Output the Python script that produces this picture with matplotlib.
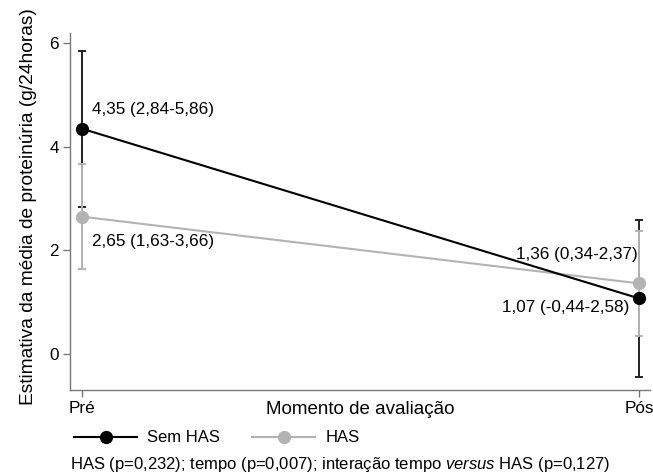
import matplotlib
matplotlib.use("Agg")
import matplotlib.pyplot as plt
from matplotlib.lines import Line2D

plt.rcParams['font.family'] = ['Liberation Sans', 'DejaVu Sans']
plt.rcParams['mathtext.fontset'] = 'custom'
plt.rcParams['mathtext.rm'] = 'Liberation Sans'
plt.rcParams['mathtext.it'] = 'Liberation Sans:italic'

categories = ["Pré", "Pós"]
sem_has = [4.35, 1.07]
sem_has_lo = [2.84, -0.44]
sem_has_hi = [5.86, 2.58]
has = [2.65, 1.36]
has_lo = [1.63, 0.34]
has_hi = [3.66, 2.37]
yticks = [0, 2, 4, 6]

black = "#000000"
gray = "#b3b3b3"

fig = plt.figure(figsize=(6.53, 4.76), dpi=100)
ax = fig.add_axes([70/653, 1-390/476, 580/653, 357/476])
x = [0, 1]

def err(v, lo, hi):
    return [[a - b for a, b in zip(v, lo)], [b - a for a, b in zip(v, hi)]]

ax.errorbar(x, sem_has, yerr=err(sem_has, sem_has_lo, sem_has_hi), fmt='none',
            ecolor="#222222", elinewidth=1.4, capsize=3, capthick=1.4, zorder=2)
ax.errorbar(x, has, yerr=err(has, has_lo, has_hi), fmt='none',
            ecolor=gray, elinewidth=1.4, capsize=3, capthick=1.4, zorder=3)
ax.plot(x, has, color=gray, lw=1.5, marker='o', ms=8.5, zorder=4)
ax.plot(x, sem_has, color=black, lw=1.5, marker='o', ms=8.5, zorder=5)

fs = 12.3
ax.text(0.018, sem_has[0] + 0.38, "4,35 (2,84-5,86)", fontsize=fs, va='center', ha='left')
ax.text(0.018, has[0] - 0.48, "2,65 (1,63-3,66)", fontsize=fs, va='center', ha='left')
ax.text(0.998, has[1] + 0.55, "1,36 (0,34-2,37)", fontsize=fs, va='center', ha='right')
ax.text(0.982, sem_has[1] - 0.17, "1,07 (-0,44-2,58)", fontsize=fs, va='center', ha='right')

ax.set_xlim(-0.0215, 1.0195)
ax.set_ylim(-0.7, 6.2)
ax.set_yticks(yticks)
ax.set_yticklabels([str(t) for t in yticks], fontsize=fs)
ax.set_xticks(x)
ax.set_xticklabels(categories, fontsize=fs)
for s in ['top', 'right']:
    ax.spines[s].set_visible(False)
for s in ['left', 'bottom']:
    ax.spines[s].set_color('#777777')
    ax.spines[s].set_linewidth(1.0)
ax.tick_params(axis='both', length=5, color='#777777', width=1.0, pad=3)

ax.set_ylabel("Estimativa da média de proteinúria (g/24horas)", fontsize=13.8)
ax.yaxis.set_label_coords(-0.057, 0.513)
fig.text(360/653, 1-410/476, "Momento de avaliação", fontsize=13.5, ha='center', va='center')

handles = [Line2D([], [], color=black, lw=1.5, marker='o', ms=8.5),
           Line2D([], [], color=gray, lw=1.5, marker='o', ms=8.5)]
fig.legend(handles, ["Sem HAS", "HAS"], loc='center left', bbox_to_anchor=(59/653, 1-438/476),
           ncol=2, frameon=False, fontsize=12, handlelength=3.8, columnspacing=1.9, handletextpad=0.6)

fig.text(70/653, 1-465/476,
         r"HAS (p=0,232); tempo (p=0,007); interação tempo $\mathit{versus}$ HAS (p=0,127)",
         fontsize=12, ha='left', va='center')

fig.savefig("out.png", dpi=100)
